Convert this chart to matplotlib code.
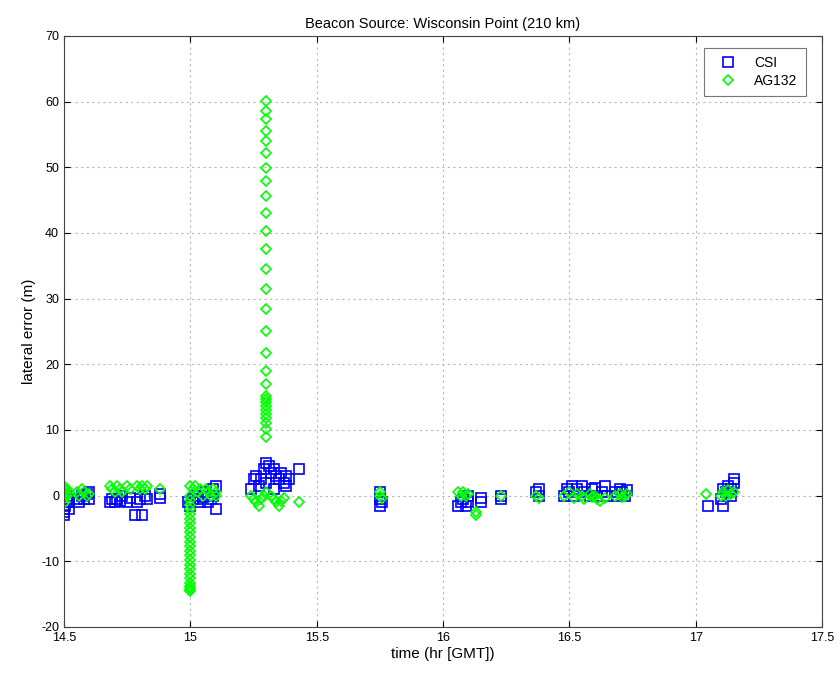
import numpy as np
import matplotlib.pyplot as plt

plt.rcParams['font.family'] = ['Liberation Sans', 'DejaVu Sans']
plt.rcParams['axes.unicode_minus'] = False

# CSI receiver (blue squares)
csi_t = [14.50, 14.50, 14.50, 14.505, 14.51, 14.51, 14.51, 14.52, 14.52,
         14.55, 14.56, 14.57, 14.58, 14.59, 14.60, 14.60,
         14.68, 14.69, 14.70, 14.71, 14.72, 14.73, 14.75, 14.76,
         14.78, 14.79, 14.80, 14.81, 14.82, 14.83,
         14.88, 14.88,
         14.99, 15.00, 15.01, 15.02, 15.03, 15.04, 15.05, 15.06, 15.07, 15.08,
         15.09, 15.10, 15.10, 15.09,
         15.24, 15.25, 15.26, 15.27, 15.28, 15.29, 15.30, 15.31, 15.32, 15.33,
         15.34, 15.35, 15.36, 15.37, 15.38, 15.38, 15.39, 15.43, 15.30, 15.33,
         15.75, 15.75, 15.75, 15.76,
         16.06, 16.07, 16.08, 16.09, 16.10, 16.10, 16.15, 16.15,
         16.23, 16.23,
         16.37, 16.38, 16.38,
         16.48, 16.49, 16.50, 16.51, 16.52, 16.53, 16.55, 16.56, 16.58, 16.59,
         16.60, 16.61, 16.63, 16.64, 16.65,
         16.68, 16.69, 16.70, 16.71, 16.72, 16.73,
         17.05,
         17.10, 17.11, 17.11, 17.12, 17.13, 17.14, 17.15, 17.15, 17.14]
csi_err = [-3.0, -2.5, -2.0, -1.5, -1.0, -0.5, 0.0, -2.0, -1.0,
           -0.5, -1.0, 0.0, -0.5, 0.3, -0.5, 0.5,
           -1.0, -0.5, -1.0, -0.5, -0.8, 0.0, -1.0, -0.3,
           -3.0, -1.0, -0.5, -3.0, 0.0, -0.5,
           -0.3, 0.3,
           -1.0, -1.5, -0.5, 0.0, -0.5, -1.0, -0.2, 0.5, -1.0, -0.5,
           1.0, -2.0, 1.5, 0.0,
           1.0, 2.5, 3.0, 1.5, 2.5, 4.0, 5.0, 4.5, 3.5, 4.0,
           3.0, 2.5, 3.5, 2.0, 1.5, 3.0, 2.5, 4.0, 2.0, 1.0,
           -1.5, -0.5, 0.5, -1.0,
           -1.5, -1.0, -0.5, -1.5, -1.0, 0.0, -1.0, -0.3,
           -0.5, 0.0,
           0.5, 1.0, 0.0,
           0.0, 1.0, 0.5, 1.5, 0.0, 1.0, 1.5, 0.5, 0.0, 1.0,
           1.2, 0.0, 0.5, 1.5, 0.0,
           0.5, 0.0, 1.0, 0.5, 0.0, 0.8,
           -1.5,
           -0.5, -1.5, 1.0, 0.5, 1.5, 0.0, 2.0, 2.5, 1.0]

# AG132 receiver (green diamonds)
ag_t = [14.50, 14.50, 14.50, 14.50, 14.50, 14.505, 14.51, 14.51, 14.52,
        14.55, 14.56, 14.57, 14.58, 14.59, 14.60,
        14.68, 14.69, 14.70, 14.71, 14.72, 14.73, 14.75, 14.76,
        14.79, 14.80, 14.81, 14.82, 14.83,
        14.88,
        15.00, 15.00, 15.00, 15.00, 15.00, 15.00, 15.00, 15.00, 15.00, 15.00,
        15.00, 15.00, 15.00, 15.00, 15.00, 15.00, 15.00, 15.00, 15.00, 15.00,
        15.00, 15.00, 15.00, 15.00,
        15.00, 15.01, 15.02, 15.03, 15.04, 15.05, 15.06, 15.07, 15.08, 15.09,
        15.10, 15.10,
        15.24, 15.25, 15.26, 15.27, 15.28, 15.29, 15.30, 15.32, 15.33, 15.34,
        15.35, 15.36, 15.37, 15.43,
        15.30, 15.30, 15.30, 15.30, 15.30, 15.30, 15.30, 15.30, 15.30, 15.30,
        15.30, 15.30, 15.30, 15.30, 15.30, 15.30, 15.30, 15.30, 15.30, 15.30,
        15.30, 15.30, 15.30, 15.30, 15.30, 15.30, 15.30, 15.30, 15.30,
        15.75, 15.75, 15.76,
        16.06, 16.07, 16.08, 16.09, 16.10, 16.13, 16.13,
        16.23,
        16.37, 16.38,
        16.48, 16.50, 16.52, 16.53, 16.55, 16.56, 16.58, 16.59, 16.60, 16.61,
        16.62, 16.64,
        16.68, 16.70, 16.71, 16.72, 16.73,
        17.04,
        17.10, 17.11, 17.12, 17.13, 17.14, 17.15]
ag_err = [1.5, 1.0, 0.5, 0.0, -0.5, -1.0, 1.0, 0.0, 0.5,
          0.5, 0.0, 1.0, 0.5, 0.0, 0.3,
          1.5, 1.0, 0.5, 1.5, 1.0, 0.5, 1.5, 1.0,
          1.5, 1.0, 1.5, 1.0, 1.5,
          1.0,
          0.0, -0.7, -1.4, -2.1, -2.8, -3.5, -4.2, -4.9, -5.6, -6.3,
          -7.0, -7.7, -8.4, -9.1, -9.8, -10.5, -11.2, -11.9, -12.6, -13.3,
          -14.0, -14.5, -14.3, -13.8,
          1.5, 1.0, 1.5, 0.5, 1.0, 0.0, 1.0, 0.5, 0.0, 1.0,
          0.5, 0.0,
          0.0, -0.5, -1.0, -1.5, -0.5, 0.0, 0.5, 0.0, -0.5, -1.0,
          -1.5, -0.8, -0.3, -1.0,
          60.1, 58.6, 57.4, 55.5, 54.0, 52.2, 49.9, 47.9, 45.7, 43.1,
          40.3, 37.6, 34.5, 31.5, 28.5, 25.1, 21.8, 19.0, 17.0, 15.2,
          14.7, 14.2, 13.6, 13.0, 12.5, 11.8, 11.0, 10.2, 9.0,
          0.5, 0.0, -0.3,
          0.5, 0.0, 0.5, 0.0, 0.3, -3.0, -2.5,
          0.0,
          0.0, -0.3,
          0.0, 0.5, -0.3, 0.3, 0.0, -0.5, 0.3, -0.2, 0.0, -0.5,
          -0.8, -0.3,
          0.0, 0.3, -0.2, 0.0, 0.2,
          0.3,
          0.0, 0.5, 0.0, 0.8, 0.3, 0.5]

fig = plt.figure(figsize=(8.37, 6.79), dpi=100)
ax = fig.add_axes([0.0765, 0.0766, 0.9055, 0.8704])

ax.plot(csi_t, csi_err, 's', mfc='none', mec='#0000ff', ms=6.5, mew=1.2, label='CSI')
ax.plot(ag_t, ag_err, 'D', mfc='none', mec='#00ff00', ms=5.5, mew=1.2, label='AG132')

ax.set_xlim(14.5, 17.5)
ax.set_ylim(-20, 70)
ax.set_xticks([14.5, 15, 15.5, 16, 16.5, 17, 17.5])
ax.set_xticklabels(['14.5', '15', '15.5', '16', '16.5', '17', '17.5'])
ax.set_yticks(np.arange(-20, 71, 10))
ax.grid(True, color='#b8b8b8', linestyle=(0, (2, 3)), linewidth=0.8)
ax.tick_params(direction='in', top=True, right=True, labelsize=9, length=4)
for s in ax.spines.values():
    s.set_color('#444444')

ax.set_title('Beacon Source: Wisconsin Point (210 km)', fontsize=10.5)
ax.set_xlabel('time (hr [GMT])', fontsize=11, labelpad=2)
ax.set_ylabel('lateral error (m)', fontsize=11, labelpad=4)

leg = ax.legend(loc='upper right', fontsize=10, fancybox=False, edgecolor='#555555',
                handlelength=2.2, borderpad=0.6, labelspacing=0.3,
                bbox_to_anchor=(0.988, 0.992))
leg.get_frame().set_linewidth(0.8)

fig.savefig('out.png', dpi=100)
